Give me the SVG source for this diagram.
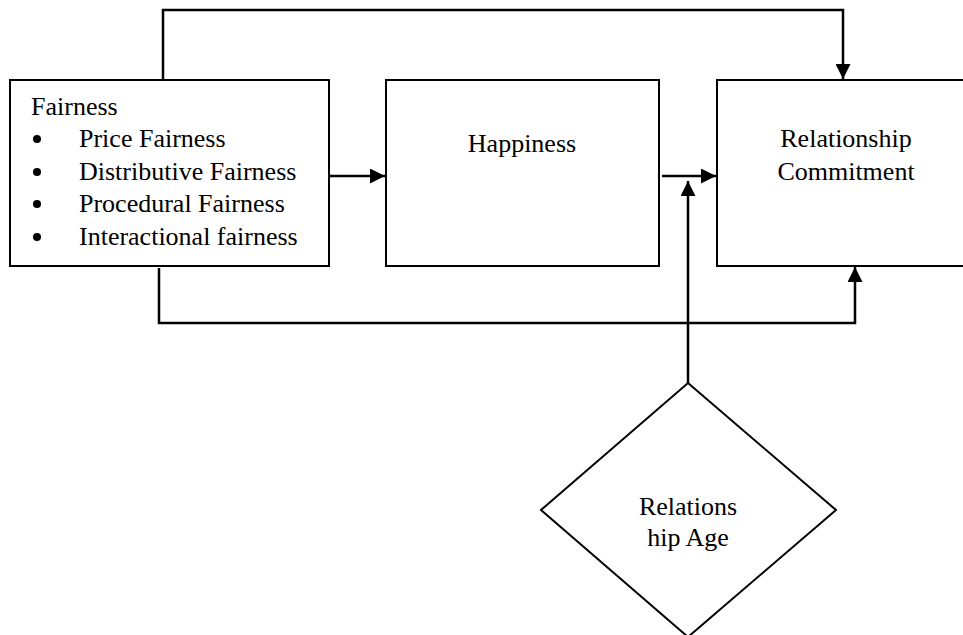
<svg xmlns="http://www.w3.org/2000/svg" width="963" height="635" viewBox="0 0 963 635">
<style>
.box{fill:#fff;stroke:#000;stroke-width:2}
.ar{fill:none;stroke:#000;stroke-width:2.5}
text{font-family:"Liberation Serif","Times New Roman",serif;font-size:26px;fill:#000}
.c{text-anchor:middle}
</style>
<defs>
<marker id="ah" viewBox="0 0 10 10" refX="10" refY="5" markerWidth="6" markerHeight="6" orient="auto" markerUnits="strokeWidth">
<path d="M0,0 L10,5 L0,10 z" fill="#000"/>
</marker>
</defs>
<rect width="963" height="635" fill="#fff"/>
<g id="fairness">
<rect class="box" x="10" y="80" width="319" height="186"/>
<text x="31" y="115">Fairness</text>
<circle cx="37" cy="139" r="4"/>
<text x="79" y="147">Price Fairness</text>
<circle cx="37" cy="172" r="4"/>
<text x="79" y="180">Distributive Fairness</text>
<circle cx="37" cy="204" r="4"/>
<text x="79" y="212">Procedural Fairness</text>
<circle cx="37" cy="237" r="4"/>
<text x="79" y="245">Interactional fairness</text>
</g>
<g id="happiness">
<rect class="box" x="386" y="80" width="273" height="186"/>
<text class="c" x="522" y="152">Happiness</text>
</g>
<g id="commitment">
<rect class="box" x="717" y="80" width="260" height="186"/>
<text class="c" x="846" y="147">Relationship</text>
<text class="c" x="846" y="180">Commitment</text>
</g>
<g id="age">
<polygon class="box" points="688,383 836,510 688,637 541,510"/>
<text class="c" x="688" y="515">Relations</text>
<text class="c" x="688" y="546">hip Age</text>
</g>
<g id="connectors">
<path class="ar" d="M163,80 V10 H843 V79" marker-end="url(#ah)"/>
<path class="ar" d="M329,176 H385" marker-end="url(#ah)"/>
<path class="ar" d="M662,176 H716" marker-end="url(#ah)"/>
<path class="ar" d="M688,383 V181" marker-end="url(#ah)"/>
<path class="ar" d="M159,268 V323 H855 V267" marker-end="url(#ah)"/>
</g>
</svg>
